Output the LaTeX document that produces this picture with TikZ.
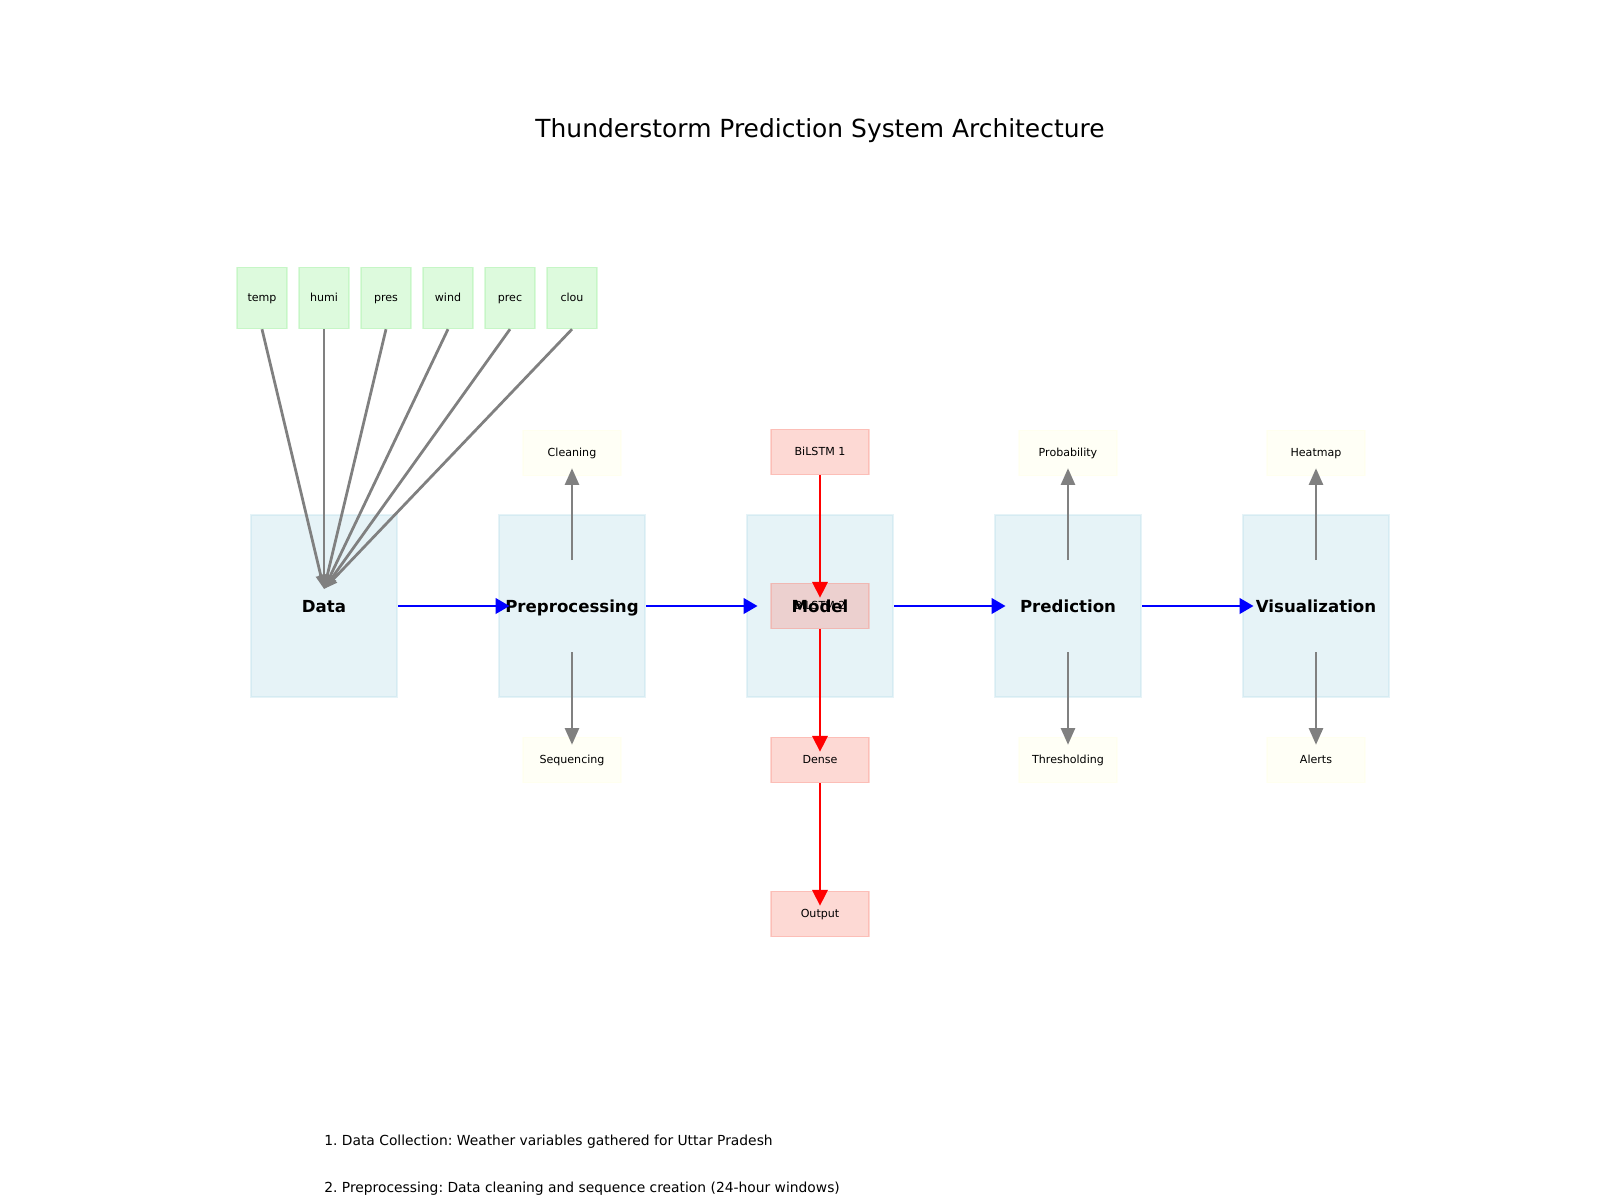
\documentclass[tikz,border=0pt]{standalone}
\usepackage{fontspec}
\setmainfont{DejaVu Sans}
\usepackage{tikz}
\usetikzlibrary{arrows.meta,calc}

\definecolor{stageblue}{RGB}{173,216,230}
\definecolor{featgreen}{RGB}{144,238,144}
\definecolor{stepyellow}{RGB}{255,255,224}
\definecolor{layersalmon}{RGB}{250,128,114}

\frenchspacing

\begin{document}
\begin{tikzpicture}[x=0.01in, y=-0.01in,
            stage/.style={draw=stageblue, fill=stageblue, draw opacity=0.3, fill opacity=0.3, text opacity=1,
                line width=2pt, minimum width=1.46in, minimum height=1.82in, inner sep=0pt,
                text height=12pt, text depth=2.8pt, font=\fontsize{12}{14}\selectfont\bfseries},
            feat/.style={draw=featgreen, fill=featgreen, draw opacity=0.3, fill opacity=0.3, text opacity=1,
                line width=1pt, minimum width=0.5in, minimum height=0.61in, inner sep=0pt,
                text height=6.7pt, text depth=1.9pt, font=\fontsize{8}{10}\selectfont},
            substep/.style={feat, draw=stepyellow, fill=stepyellow, minimum width=0.98in, minimum height=0.45in},
            layer/.style={substep, draw=layersalmon, fill=layersalmon},
            flow/.style={-{Triangle[width=11pt,length=10pt]}, blue, line width=2pt},
            aux/.style={-{Triangle[width=10pt,length=12pt]}, gray, line width=2pt},
            feed/.style={-{Triangle[width=7pt,length=10pt]}, gray, line width=2pt},
            net/.style={-{Triangle[width=11pt,length=11.5pt]}, red, line width=2pt},
            note/.style={anchor=west, inner sep=0pt, font=\fontsize{10}{12}\selectfont}]

            \useasboundingbox (0,0) rectangle (1600,1200);

            \node (title) at (820,131) {\fontsize{18}{22}\selectfont Thunderstorm Prediction System Architecture};

            \node[stage] (data) at (324,606) {Data};
            \node[stage] (prep) at (572,606) {Preprocessing};
            \node[stage] (model) at (820,606) {};
            \node[stage] (pred) at (1068,606) {Prediction};
            \node[stage] (vis) at (1316,606) {Visualization};

            \node[feat] (temp) at (262,298) {temp};
            \node[feat] (humi) at (324,298) {humi};
            \node[feat] (pres) at (386,298) {pres};
            \node[feat] (wind) at (448,298) {wind};
            \node[feat] (prec) at (510,298) {prec};
            \node[feat] (clou) at (572,298) {clou};
            \coordinate (hub) at (324,589);

            \node[substep] (clean) at (572,453) {Cleaning};
            \node[substep] (seq) at (572,760) {Sequencing};
            \node[substep] (prob) at (1068,453) {Probability};
            \node[substep] (thresh) at (1068,760) {Thresholding};
            \node[substep] (heat) at (1316,453) {Heatmap};
            \node[substep] (alert) at (1316,760) {Alerts};

            \node[layer] (lstma) at (820,452) {BiLSTM 1};
            \node[layer] (lstmb) at (820,606) {BiLSTM 2};
            \node[layer] (dense) at (820,760) {Dense};
            \node[layer] (out) at (820,914) {Output};

            \node[stage, draw=none, fill=none] (modeltext) at (model.center) {Model};

            \draw[feed] (temp.south) -- (hub);
            \draw[feed] (humi.south) -- (hub);
            \draw[feed] (pres.south) -- (hub);
            \draw[feed] (wind.south) -- (hub);
            \draw[feed] (prec.south) -- (hub);
            \draw[feed] (clou.south) -- (hub);

            \draw[flow] (data.east) -- ($(prep.west)+(12,0)$);
            \draw[flow] (prep.east) -- ($(model.west)+(12,0)$);
            \draw[flow] (model.east) -- ($(pred.west)+(12,0)$);
            \draw[flow] (pred.east) -- ($(vis.west)+(12,0)$);

            \draw[aux] ($(prep.center)+(0,-46)$) -- ($(clean.south)+(0,-8)$);
            \draw[aux] ($(prep.center)+(0,46)$) -- ($(seq.north)+(0,8)$);
            \draw[aux] ($(pred.center)+(0,-46)$) -- ($(prob.south)+(0,-8)$);
            \draw[aux] ($(pred.center)+(0,46)$) -- ($(thresh.north)+(0,8)$);
            \draw[aux] ($(vis.center)+(0,-46)$) -- ($(heat.south)+(0,-8)$);
            \draw[aux] ($(vis.center)+(0,46)$) -- ($(alert.north)+(0,8)$);

            \draw[net] (lstma.south) -- ($(lstmb.north)+(0,15)$);
            \draw[net] (lstmb.south) -- ($(dense.north)+(0,15)$);
            \draw[net] (dense.south) -- ($(out.north)+(0,15)$);

            \node[note] (notea) at (324,1142) {1. Data Collection: Weather variables gathered for Uttar Pradesh};
            \node[note] (noteb) at (324,1189) {2. Preprocessing: Data cleaning and sequence creation (24-hour windows)};

\end{tikzpicture}
\end{document}
